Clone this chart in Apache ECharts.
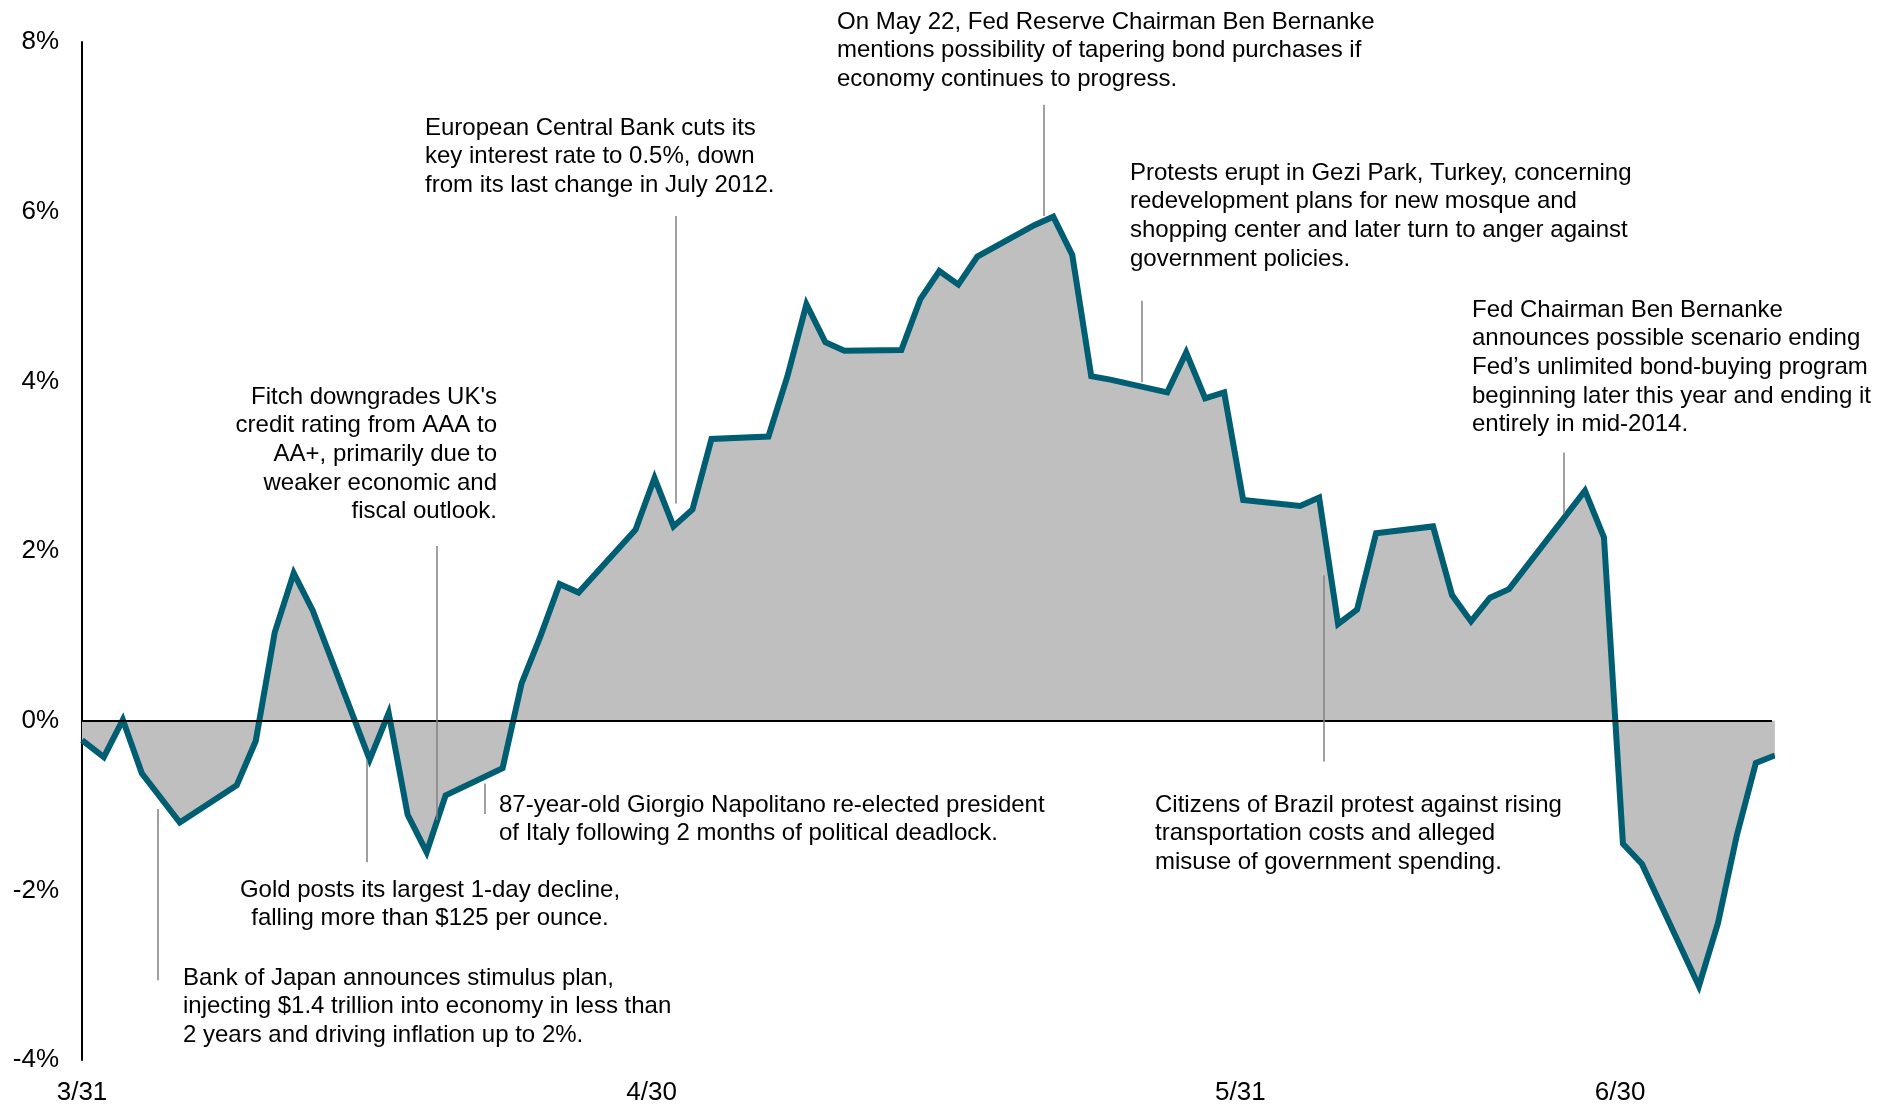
<!DOCTYPE html>
<html>
<head>
<meta charset="utf-8">
<script src="https://cdn.jsdelivr.net/npm/echarts@6/dist/echarts.min.js"></script>
<style>
html,body{margin:0;padding:0;background:#fff;}
#chart{width:1893px;height:1106px;}
</style>
</head>
<body>
<div id="chart"></div>
<script>
// ---- data ----
const dates = [
 '2013-03-31','2013-04-01','2013-04-02','2013-04-03','2013-04-05','2013-04-08','2013-04-09','2013-04-10','2013-04-11','2013-04-12',
 '2013-04-15','2013-04-16','2013-04-17','2013-04-18','2013-04-19','2013-04-22','2013-04-23','2013-04-24','2013-04-25','2013-04-26',
 '2013-04-29','2013-04-30','2013-05-01','2013-05-02','2013-05-03','2013-05-06','2013-05-07','2013-05-08','2013-05-09','2013-05-10',
 '2013-05-13','2013-05-14','2013-05-15','2013-05-16','2013-05-17','2013-05-20','2013-05-21','2013-05-22','2013-05-23','2013-05-24',
 '2013-05-27','2013-05-28','2013-05-29','2013-05-30','2013-05-31','2013-06-03','2013-06-04','2013-06-05','2013-06-06','2013-06-07',
 '2013-06-10','2013-06-11','2013-06-12','2013-06-13','2013-06-14','2013-06-17','2013-06-18','2013-06-19','2013-06-20','2013-06-21',
 '2013-06-24','2013-06-25','2013-06-26','2013-06-27','2013-06-28'
];
const values = [
 -0.23,-0.43,0.01,-0.62,-1.20,-0.76,-0.24,1.04,1.74,1.30,
 -0.46,0.09,-1.11,-1.55,-0.88,-0.56,0.44,1.00,1.61,1.51,
 2.25,2.86,2.29,2.49,3.32,3.35,4.06,4.91,4.46,4.36,
 4.37,4.97,5.30,5.14,5.47,5.84,5.94,5.49,4.06,4.02,
 3.87,4.34,3.80,3.87,2.60,2.53,2.63,1.14,1.31,2.21,
 2.29,1.48,1.17,1.45,1.55,2.42,2.71,2.16,-1.45,-1.69,
 -3.13,-2.39,-1.35,-0.50,-0.41
];
const xTickDates  = ['2013-03-31','2013-04-30','2013-05-31','2013-06-20'];
const xTickLabels = ['3/31','4/30','5/31','6/30'];
const yTicks = [-4,-2,0,2,4,6,8];

// event leader lines (date, top %, bottom %)
const eventDates  = ['2013-04-04T00:00','2013-04-15T00:00','2013-04-18T17:00','2013-04-21T05:00','2013-05-01T07:00','2013-05-20T15:00','2013-05-25T20:00','2013-06-04T09:00','2013-06-17T01:00'];
const eventTop    = [-1.04,-0.46,2.06,-0.74,5.95,7.26,4.95,1.71,3.16];
const eventBottom = [-3.06,-1.67,-1.17,-1.10,2.56,5.95,3.99,-0.48,2.44];

const eventTexts = [
 'Bank of Japan announces stimulus plan,\ninjecting $1.4 trillion into economy in less than\n2 years and driving inflation up to 2%.',
 'Gold posts its largest 1-day decline,\nfalling more than $125 per ounce.',
 'Fitch downgrades UK\'s\ncredit rating from AAA to\nAA+, primarily due to\nweaker economic and\nfiscal outlook.',
 '87-year-old Giorgio Napolitano re-elected president\nof Italy following 2 months of political deadlock.',
 'European Central Bank cuts its\nkey interest rate to 0.5%, down\nfrom its last change in July 2012.',
 'On May 22, Fed Reserve Chairman Ben Bernanke\nmentions possibility of tapering bond purchases if\neconomy continues to progress.',
 'Protests erupt in Gezi Park, Turkey, concerning\nredevelopment plans for new mosque and\nshopping center and later turn to anger against\ngovernment policies.',
 'Citizens of Brazil protest against rising\ntransportation costs and alleged\nmisuse of government spending.',
 'Fed Chairman Ben Bernanke\nannounces possible scenario ending\nFed\u2019s unlimited bond-buying program\nbeginning later this year and ending it\nentirely in mid-2014.'
];

// ---- layout (pixels) ----
const textLayout = [
 {x:183, y:978, align:'left'},
 {x:430, y:890, align:'center'},
 {x:497, y:397, align:'right'},
 {x:499, y:805, align:'left'},
 {x:425, y:128, align:'left'},
 {x:837, y:22,  align:'left'},
 {x:1130,y:173, align:'left'},
 {x:1155,y:805, align:'left'},
 {x:1472,y:310, align:'left'}
];
const LH = 28.7;
const FONT = '"Liberation Sans", Arial, Helvetica, sans-serif';

// day offset from first date (calendar-day scale)
const DAY = 86400000;
const CLOSE_SHIFT = 0.15; // trading-day closes sit slightly after midnight of their date
const t0 = Date.parse(dates[0] + 'T00:00:00Z');
const dayOf = s => (Date.parse((s.length === 10 ? s + 'T00:00' : s) + ':00Z') - t0) / DAY;

const chart = echarts.init(document.getElementById('chart'));
const seriesData = dates.map((d,i)=>[i === 0 ? 0 : dayOf(d) + CLOSE_SHIFT, values[i]]);
const tickPos = xTickDates.map(dayOf);
const tickMap = {};
tickPos.forEach((p,i)=>{ tickMap[p] = xTickLabels[i]; });
const xMax = dayOf(dates[dates.length-1]);

const leaderLines = eventDates.map((d,i)=>[
  {coord:[dayOf(d), eventTop[i]]},
  {coord:[dayOf(d), eventBottom[i]]}
]);

chart.setOption({
  animation:false,
  backgroundColor:'#ffffff',
  grid:{left:82, top:42, width:1690, height:1020, containLabel:false},
  xAxis:{
    type:'value',
    min:0, max:xMax,
    axisLine:{show:false},
    axisTick:{show:false},
    splitLine:{show:false},
    axisLabel:{
      customValues: tickPos,
      formatter: v => (tickMap[v] !== undefined ? tickMap[v] : ''),
      fontSize:26, color:'#000', fontFamily:FONT, margin:20,
      showMinLabel:true, showMaxLabel:true
    }
  },
  yAxis:{
    type:'value', min:yTicks[0], max:yTicks[yTicks.length-1], interval:2,
    axisLine:{show:true, onZero:false, lineStyle:{color:'#000', width:2}},
    axisTick:{show:false},
    splitLine:{show:false},
    axisLabel:{formatter:'{value}%', fontSize:26, color:'#000', fontFamily:FONT, margin:23}
  },
  series:[
    {
      type:'line',
      data:seriesData,
      symbol:'none',
      clip:true,
      lineStyle:{color:'#005E73', width:6, join:'miter'},
      areaStyle:{color:'#BFBFBF', opacity:1},
      z:3
    },
    {
      type:'line',
      data:[],
      silent:true,
      markLine:{
        silent:true, symbol:'none', animation:false,
        label:{show:false},
        data:[[{coord:[0,0]},{coord:[xMax,0]}]],
        lineStyle:{color:'#000', width:2, type:'solid'}
      },
      z:4
    },
    {
      type:'line',
      data:[],
      silent:true,
      markLine:{
        silent:true, symbol:'none', animation:false,
        label:{show:false},
        data:leaderLines,
        lineStyle:{color:'#808080', width:1.5, type:'solid'}
      },
      z:5
    }
  ],
  graphic: eventTexts.map((t,i)=>({
    type:'text',
    x:textLayout[i].x, y:textLayout[i].y - LH/2,
    style:{
      text:t, fill:'#000', font:'24px ' + FONT,
      lineHeight:LH, align:textLayout[i].align, verticalAlign:'top'
    },
    z:10
  }))
});
</script>
</body>
</html>
